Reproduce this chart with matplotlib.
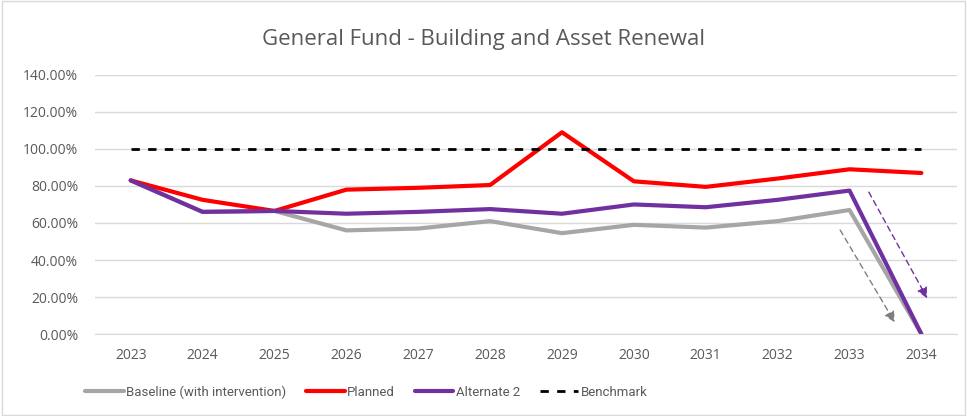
import matplotlib.pyplot as plt
from matplotlib.patches import Rectangle
from matplotlib.ticker import FuncFormatter, MultipleLocator

plt.rcParams['font.family'] = ['Open Sans', 'DejaVu Sans']

years = [2023, 2024, 2025, 2026, 2027, 2028, 2029, 2030, 2031, 2032, 2033, 2034]
baseline = [83, 66, 66.5, 56, 57, 61, 54.5, 59, 57.5, 61, 67, 0]
planned = [83, 72.5, 66.5, 78, 79, 80.5, 109, 82.5, 79.5, 84, 89, 87]
alternate2 = [83, 66, 66.5, 65, 66, 67.5, 65, 70, 68.5, 72.5, 77.5, 0]
benchmark = [100] * len(years)

# dashed trend arrows (start, end) in data coords
gray_arrow = ((2032.85, 57.5), (2033.65, 5))
purple_arrow = ((2033.25, 78), (2034.1, 18))

text_col = '#595959'

fig = plt.figure(figsize=(9.67, 4.16), dpi=100)
ax = fig.add_axes([0.098, 0.197, 0.892, 0.623])

ax.plot(years, baseline, color='#a6a6a6', linewidth=3, label='Baseline (with intervention)', solid_capstyle='round')
ax.plot(years, planned, color='#ff0000', linewidth=3, label='Planned', solid_capstyle='round')
ax.plot(years, alternate2, color='#7030a0', linewidth=3, label='Alternate 2', solid_capstyle='round')
ax.plot(years, benchmark, color='black', linewidth=2, linestyle=(0, (3, 3)), label='Benchmark')

ax.annotate('', xy=gray_arrow[1], xytext=gray_arrow[0],
            arrowprops=dict(arrowstyle='-|>', color='#7f7f7f', linestyle=(0, (4, 3)), lw=1, mutation_scale=16))
ax.annotate('', xy=purple_arrow[1], xytext=purple_arrow[0],
            arrowprops=dict(arrowstyle='-|>', color='#7030a0', linestyle=(0, (4, 3)), lw=1, mutation_scale=16))

ax.set_xlim(2022.5, 2034.5)
ax.set_ylim(0, 140)
ax.set_xticks(years)
ax.yaxis.set_major_locator(MultipleLocator(20))
ax.yaxis.set_major_formatter(FuncFormatter(lambda v, p: '%.2f%%' % v))
ax.tick_params(axis='both', length=0, labelsize=10, colors=text_col)
ax.tick_params(axis='x', pad=10)
ax.tick_params(axis='y', pad=12)
ax.grid(axis='y', color='#d9d9d9', linewidth=1)
ax.set_axisbelow(True)
for s in ax.spines.values():
    s.set_visible(False)
ax.spines['bottom'].set_visible(True)
ax.spines['bottom'].set_color('#d9d9d9')

fig.text(0.5, 0.905, 'General Fund - Building and Asset Renewal', ha='center', va='center',
         fontsize=16, color=text_col)

ax.legend(loc='center', bbox_to_anchor=(0.315, -0.224), ncol=4, frameon=False,
          prop={'family': ['Roboto', 'DejaVu Sans'], 'size': 9.5},
          handlelength=2.9, columnspacing=1.5, handletextpad=0.2, labelcolor=text_col)

fig.patches.append(Rectangle((0.002, 0.003), 0.996, 0.994, transform=fig.transFigure,
                             fill=False, edgecolor='#d9d9d9', linewidth=1))

plt.savefig('out.png', dpi=100)
